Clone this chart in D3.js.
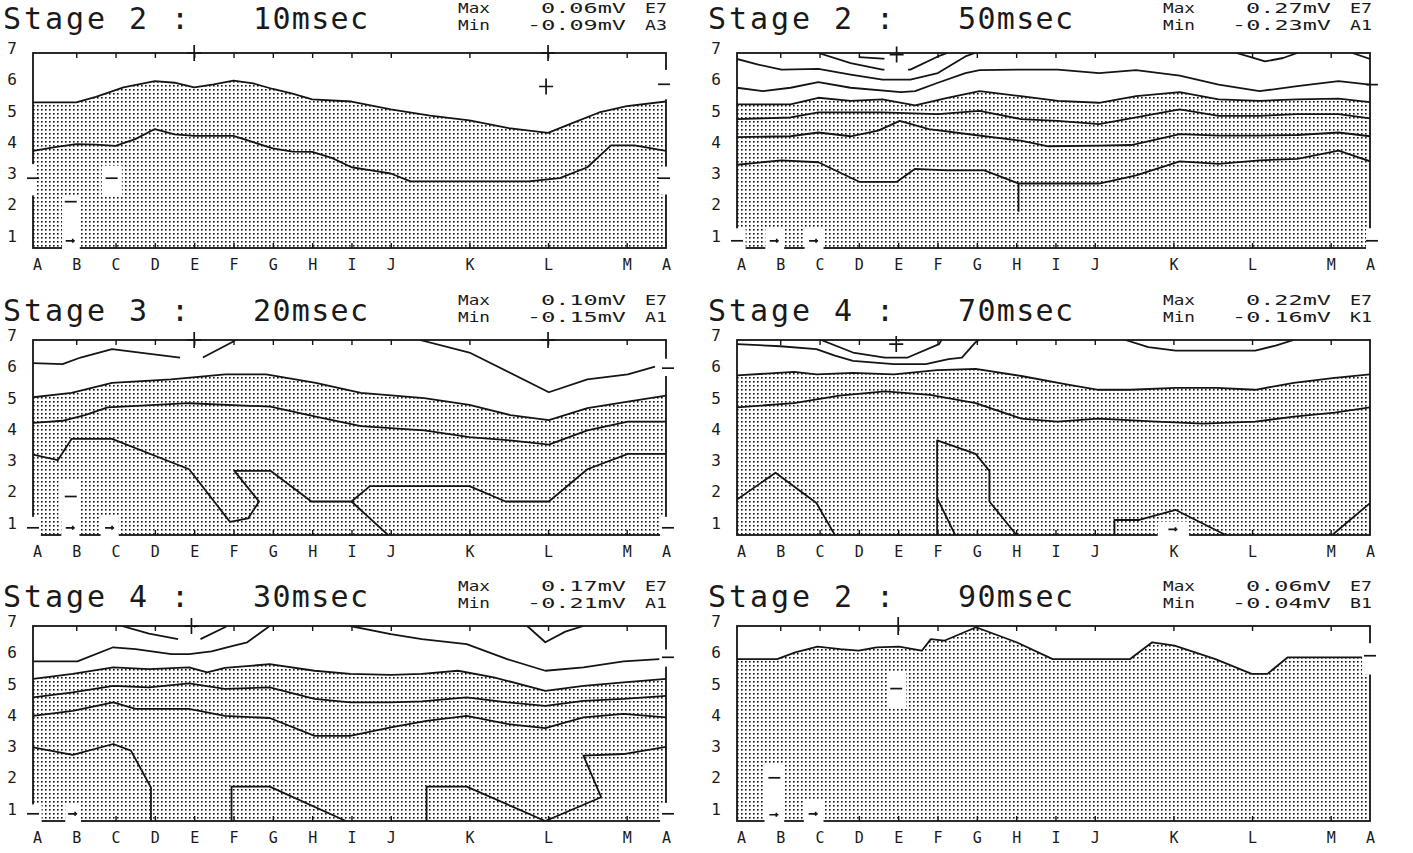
<!DOCTYPE html>
<html>
<head>
<meta charset="utf-8">
<script src="https://cdn.jsdelivr.net/npm/d3@7"></script>
<style>
body { margin: 0; background: #fff; }
svg { display: block; }
.line { fill: none; stroke: #151515; stroke-width: 1.8; stroke-linejoin: round; }
.frame { fill: none; stroke: #151515; stroke-width: 1.8; }
.mark { fill: none; stroke: #151515; stroke-width: 1.7; }
text { font-family: "DejaVu Sans Mono", monospace; fill: #1a1a1a; }
</style>
</head>
<body>
<svg id="chart" width="1413" height="853"></svg>
<script>
// electrode columns (A..M, back to A) and their position around the torso
var columns = ["A","B","C","D","E","F","G","H","I","J","K","L","M","A"];
var colPos  = [0,1,2,3,4,5,6,7,8,9,11,13,15,16];
var rowTicks = [1,2,3,4,5,6,7];

var stages = ["Stage 2 :","Stage 2 :","Stage 3 :","Stage 4 :","Stage 4 :","Stage 2 :"];
var times  = ["10msec","50msec","20msec","70msec","30msec","90msec"];
var maxVals = ["0.06mV","0.27mV","0.10mV","0.22mV","0.17mV","0.06mV"];
var minVals = ["-0.09mV","-0.23mV","-0.15mV","-0.16mV","-0.21mV","-0.04mV"];
var maxLeads = ["E7","E7","E7","E7","E7","E7"];
var minLeads = ["A3","A1","A1","K1","A1","B1"];

// ---- 10 msec
var fill10 = [[-0.1,5.27],[1,5.27],[1.5,5.45],[2.2,5.75],[3,5.95],[3.5,5.9],[4,5.75],[4.5,5.85],[5,5.97],[5.5,5.88],[6,5.7],[6.5,5.55],[7,5.37],[8,5.3],[9,5.05],[10,4.85],[11,4.7],[12,4.45],[13,4.3],[13.6,4.6],[14.3,4.95],[15,5.15],[16,5.3]];
var lines10 = [
  [[-0.1,3.72],[0.5,3.85],[1,3.94],[1.5,3.92],[2,3.88],[2.5,4.1],[3,4.42],[3.5,4.25],[4,4.2],[5,4.2],[5.5,4.0],[6,3.8],[6.5,3.7],[7,3.69],[7.5,3.5],[8,3.2],[8.5,3.1],[9,3.0],[9.5,2.75],[11,2.75],[12.5,2.75],[13.3,2.85],[14,3.2],[14.6,3.9],[15.2,3.9],[16,3.72]]
];
var holes10 = [[-0.3,2.3,0.0,3.3],[1.65,2.3,2.16,3.25],[0.64,0.55,1.09,2.27],[15.85,5.37,16.3,6.31],[15.85,2.33,16.3,3.22]];
var marks10 = [[4,6.85,"+"],[13,6.85,"+"],[12.95,5.78,"+"],[-0.1,2.85,"-"],[1.9,2.85,"-"],[0.86,2.1,"-"],[0.86,0.85,"t"],[15.95,5.85,"-"],[15.95,2.85,"-"]];

// ---- 50 msec
var fill50 = [[-0.1,5.21],[1.26,5.21],[1.97,5.42],[2.79,5.32],[3.6,5.37],[4.43,5.18],[5.25,5.42],[6.07,5.63],[7.12,5.47],[8.06,5.32],[9.11,5.26],[10.05,5.47],[11.16,5.6],[12.15,5.37],[13.19,5.32],[14.15,5.37],[15.2,5.39],[16,5.28]];
var lines50 = [
  [[-0.1,6.66],[0.44,6.48],[1.03,6.32],[1.97,6.34],[2.79,6.16],[3.6,6.0],[4.31,6.0],[5.01,6.21],[5.71,6.74],[5.95,6.85]],
  [[1.97,6.85],[2.79,6.53],[3.6,6.32],[4.31,6.32],[5.01,6.74],[5.25,6.85]],
  [[3.0,6.72],[3.7,6.66]],
  [[-0.1,5.74],[0.56,5.63],[1.26,5.74],[1.97,5.92],[2.79,5.74],[4.07,5.6],[4.43,5.63],[5.01,5.9],[5.71,6.21],[6.07,6.3],[7.12,6.32],[8.06,6.32],[9.11,6.21],[10.05,6.3],[11.16,6.13],[12.15,5.84],[13.19,5.63],[14.15,5.79],[15.2,5.95],[16,5.84]],
  [[12.6,6.85],[12.97,6.72],[13.33,6.58],[13.79,6.69],[14.15,6.85]],
  [[15.55,6.85],[16,6.66]],
  [[-0.1,4.74],[1.26,4.79],[1.97,4.95],[3.6,4.95],[5.01,4.9],[6.07,5.0],[7.12,4.74],[8.06,4.68],[9.11,4.58],[10.05,4.79],[11.16,5.05],[12.15,4.84],[13.19,4.84],[14.15,4.9],[15.2,4.9],[16,4.76]],
  [[-0.1,4.16],[1.26,4.19],[1.97,4.31],[2.79,4.19],[3.49,4.37],[4.04,4.68],[4.78,4.42],[5.95,4.23],[7.12,4.05],[7.82,3.87],[9.11,3.89],[9.93,3.91],[11.16,4.26],[12.15,4.21],[13.19,4.21],[14.15,4.23],[15.2,4.31],[16,4.19]],
  [[-0.1,3.28],[1.03,3.42],[1.97,3.36],[3.02,2.73],[3.96,2.73],[4.43,3.15],[5.25,3.1],[6.19,3.1],[7.06,2.68],[9.11,2.68],[10.05,2.94],[11.16,3.39],[12.15,3.31],[13.19,3.42],[14.15,3.47],[15.2,3.73],[16,3.39]],
  [[7.06,2.68],[7.06,1.78]]
];
var holes50 = [[3.65,6.2,4.25,6.8],[-0.2,0.55,0.12,1.25],[0.62,0.55,1.1,1.25],[1.62,0.55,2.1,1.25],[15.9,0.55,16.3,1.25]];
var marks50 = [[3.96,6.8,"+"],[-0.1,0.85,"-"],[0.86,0.85,"t"],[1.86,0.85,"t"],[16.05,0.85,"-"],[16.05,5.84,"-"]];

// ---- 20 msec
var fill20 = [[-0.1,5.02],[0.88,5.16],[1.91,5.48],[3.41,5.59],[4.79,5.75],[5.83,5.75],[7.09,5.48],[8.24,5.16],[9.85,4.99],[11.0,4.78],[12.04,4.45],[13.02,4.29],[14.0,4.67],[15.03,4.88],[16.0,5.07]];
var lines20 = [
  [[-0.1,6.11],[0.65,6.08],[1.11,6.29],[1.91,6.56],[2.72,6.43],[3.64,6.29]],
  [[4.22,6.29],[4.96,6.78],[5.05,6.85]],
  [[9.74,6.85],[11.0,6.45],[13.02,5.18],[14.0,5.59],[15.03,5.75],[15.72,6.0]],
  [[-0.1,4.2],[0.65,4.27],[1.22,4.45],[1.8,4.7],[3.87,4.83],[5.94,4.72],[7.09,4.4],[8.24,4.1],[9.85,3.96],[11.0,3.75],[12.04,3.64],[13.02,3.51],[14.0,3.96],[15.03,4.24],[16.0,4.24]],
  [[-0.1,3.19],[0.53,3.01],[0.88,3.69],[1.91,3.69],[3.87,2.72],[4.91,1.04],[5.37,1.15],[5.65,1.69],[5.02,2.67],[5.94,2.67],[6.98,1.69],[8.0,1.69],[8.47,2.18],[11.0,2.18],[11.92,1.69],[13.02,1.69],[14.0,2.72],[15.03,3.21],[16.0,3.21]],
  [[8.0,1.69],[8.93,0.62]]
];
var holes20 = [[0.55,1.15,1.1,2.4],[-0.2,0.55,0.1,1.2],[0.62,0.55,1.08,1.2],[1.62,0.55,2.08,1.2],[15.85,5.7,16.3,6.25],[15.85,0.55,16.3,1.2]];
var marks20 = [[4,6.85,"+"],[13,6.85,"+"],[0.86,1.85,"-"],[-0.1,0.85,"-"],[0.86,0.85,"t"],[1.86,0.85,"t"],[16.05,5.95,"-"],[16.05,0.85,"-"]];

// ---- 70 msec
var fill70 = [[-0.1,5.72],[1.35,5.83],[1.92,5.75],[2.85,5.8],[3.89,5.75],[4.99,5.89],[5.97,5.93],[7.13,5.7],[8.28,5.43],[9.09,5.26],[9.9,5.26],[11.06,5.32],[12.1,5.32],[13.08,5.26],[14.06,5.48],[15.1,5.64],[16.0,5.75]];
var lines70 = [
  [[-0.1,6.72],[1.0,6.65],[1.92,6.56],[2.39,6.35],[2.85,6.18],[3.89,6.08],[4.7,6.08],[5.28,6.24],[5.62,6.29],[5.97,6.78],[6.05,6.85]],
  [[2.04,6.85],[2.85,6.45],[3.66,6.29],[4.24,6.29],[5.04,6.72],[5.1,6.85]],
  [[9.78,6.85],[10.36,6.62],[11.06,6.51],[12.1,6.51],[13.08,6.51],[13.6,6.67],[14.06,6.85]],
  [[-0.1,4.7],[1.35,4.83],[2.5,5.07],[3.66,5.21],[4.81,5.1],[5.97,4.83],[7.13,4.34],[8.05,4.24],[9.09,4.34],[10.59,4.24],[11.75,4.18],[13.08,4.24],[14.06,4.4],[15.1,4.53],[16.0,4.7]],
  [[-0.1,1.75],[0.88,2.61],[1.92,1.64],[2.39,0.62]],
  [[4.99,0.62],[4.99,3.64],[5.97,3.21],[6.32,2.67],[6.32,1.69],[7.01,0.62]],
  [[4.99,1.8],[5.45,0.62]],
  [[9.5,0.62],[9.5,1.1],[10.13,1.1],[11.06,1.42],[12.33,0.62]],
  [[15.04,0.62],[16,1.64]]
];
var holes70 = [[3.55,6.42,4.3,6.8],[10.6,0.55,11.4,1.05]];
var marks70 = [[3.95,6.72,"+"],[11.0,0.8,"t"]];

// ---- 30 msec
var fill30 = [[-0.1,5.16],[0.91,5.32],[1.94,5.53],[2.85,5.47],[3.87,5.53],[4.33,5.37],[4.78,5.51],[5.92,5.63],[7.06,5.42],[7.97,5.32],[9.0,5.29],[9.79,5.32],[10.71,5.42],[11.62,5.21],[12.93,4.78],[13.9,4.94],[14.92,5.05],[16,5.16]];
var lines30 = [
  [[2.16,6.85],[2.85,6.61],[3.59,6.43]],
  [[4.16,6.43],[4.78,6.81],[4.82,6.85]],
  [[-0.1,5.72],[1.03,5.72],[1.94,6.17],[2.51,6.11],[3.42,5.95],[3.87,5.95],[4.44,6.04],[5.01,6.22],[5.35,6.33],[5.92,6.85]],
  [[7.97,6.85],[9.0,6.59],[9.79,6.43],[10.93,6.27],[11.96,5.79],[12.93,5.42],[13.9,5.53],[14.92,5.72],[15.83,5.79]],
  [[12.47,6.85],[12.93,6.33],[13.44,6.67],[13.9,6.85]],
  [[-0.1,4.57],[0.91,4.73],[1.94,4.94],[2.85,4.89],[3.87,5.02],[4.78,4.84],[5.92,4.89],[7.06,4.52],[7.97,4.41],[9.0,4.41],[9.79,4.44],[10.93,4.57],[11.96,4.41],[12.93,4.3],[13.9,4.46],[14.92,4.52],[16,4.62]],
  [[-0.1,3.98],[0.91,4.14],[1.94,4.41],[2.51,4.2],[3.87,4.2],[4.78,3.98],[5.92,3.91],[7.06,3.34],[7.97,3.34],[9.0,3.61],[9.91,3.82],[10.93,3.98],[11.96,3.72],[12.93,3.59],[13.9,3.93],[14.92,4.04],[16,3.93]],
  [[-0.1,2.97],[0.91,2.73],[1.94,3.08],[2.39,2.87],[2.9,1.69],[2.9,0.62]],
  [[4.95,0.62],[4.95,1.72],[5.92,1.72],[7.86,0.62]],
  [[9.91,0.62],[9.91,1.72],[10.93,1.72],[12.93,0.62],[14.35,1.38],[13.9,2.71],[14.92,2.76],[16,2.99]]
];
var holes30 = [[-0.2,0.55,0.12,1.15],[0.72,0.55,1.12,1.15],[15.85,5.55,16.3,6.1],[15.85,0.55,16.3,1.2],[3.62,6.35,4.12,6.8]];
var marks30 = [[3.93,6.85,"+"],[-0.1,0.85,"-"],[0.92,0.85,"t"],[16.05,5.85,"-"],[16.05,0.85,"-"]];

// ---- 90 msec
var fill90 = [[-0.1,5.79],[0.92,5.79],[1.38,6.01],[1.95,6.19],[2.53,6.11],[2.99,6.06],[3.45,6.17],[4.02,6.19],[4.6,6.06],[4.83,6.43],[5.17,6.38],[5.98,6.81],[7.01,6.33],[7.93,5.79],[9.89,5.79],[10.46,6.33],[11.03,6.22],[12.07,5.79],[12.99,5.32],[13.39,5.32],[13.91,5.85],[16,5.85]];
var lines90 = [];
var holes90 = [[3.72,4.25,4.2,5.35],[0.6,0.55,1.1,2.45],[1.6,0.55,2.1,1.3],[15.8,5.3,16.3,6.3]];
var marks90 = [[4,6.85,"|"],[3.95,4.85,"-"],[0.85,2.0,"-"],[0.85,0.82,"t"],[1.85,0.85,"t"],[16.0,5.9,"-"]];

var fills = [fill10, fill50, fill20, fill70, fill30, fill90];
var lineSets = [lines10, lines50, lines20, lines70, lines30, lines90];
var holeSets = [holes10, holes50, holes20, holes70, holes30, holes90];
var markSets = [marks10, marks50, marks20, marks70, marks30, marks90];

// layout
var colLeft = [33, 737], colRight = [666, 1370];
var rowTop = [53, 340, 626], plotH = 195;
var titleBase = [29, 321, 607];
var colShift = [0, 705];

var svg = d3.select("#chart");
var defs = svg.append("defs");
var pat = defs.append("pattern").attr("id", "stipple")
    .attr("patternUnits", "userSpaceOnUse").attr("width", 4).attr("height", 4);
pat.append("rect").attr("x", 1).attr("y", 1).attr("width", 1.6).attr("height", 1.6).attr("fill", "#111");

stages.forEach(function(st, i) {
  var c = i % 2, r = Math.floor(i / 2);
  var x = d3.scaleLinear().domain([-0.1, 16]).range([colLeft[c], colRight[c]]);
  var y = d3.scaleLinear().domain([0.62, 6.85]).range([rowTop[r] + plotH, rowTop[r]]);
  var g = svg.append("g");

  defs.append("clipPath").attr("id", "clip" + i).append("rect")
      .attr("x", x(-0.1)).attr("y", y(6.85))
      .attr("width", x(16) - x(-0.1)).attr("height", y(0.62) - y(6.85));
  var plot = g.append("g").attr("clip-path", "url(#clip" + i + ")");

  var area = d3.area().x(function(d) { return x(d[0]); }).y0(y(0.62)).y1(function(d) { return y(d[1]); });
  var line = d3.line().x(function(d) { return x(d[0]); }).y(function(d) { return y(d[1]); });

  plot.append("path").datum(fills[i]).attr("d", area).attr("fill", "url(#stipple)");
  plot.selectAll("path.line").data([fills[i]].concat(lineSets[i])).join("path")
      .attr("class", "line").attr("d", line);

  g.append("rect").attr("class", "frame")
      .attr("x", x(-0.1)).attr("y", y(6.85))
      .attr("width", x(16) - x(-0.1)).attr("height", y(0.62) - y(6.85));

  // small inner ticks on top and bottom edges
  g.append("g").attr("transform", "translate(0," + y(6.85) + ")")
      .call(d3.axisTop(x).tickValues(colPos.slice(1, -1)).tickSize(-5).tickFormat(""))
      .call(function(a) { a.select(".domain").remove(); a.selectAll("line").attr("stroke", "#151515").attr("stroke-width", 1.4); });
  g.append("g").attr("transform", "translate(0," + y(0.62) + ")")
      .call(d3.axisBottom(x).tickValues(colPos.slice(2, -1)).tickSize(-5).tickFormat(""))
      .call(function(a) { a.select(".domain").remove(); a.selectAll("line").attr("stroke", "#151515").attr("stroke-width", 1.4); });

  // blank patches around electrode markers
  g.selectAll("rect.hole").data(holeSets[i]).join("rect").attr("class", "hole")
      .attr("fill", "#fff")
      .attr("x", function(d) { return x(d[0]); })
      .attr("y", function(d) { return y(d[3]); })
      .attr("width", function(d) { return x(d[2]) - x(d[0]); })
      .attr("height", function(d) { return y(d[1]) - y(d[3]); });

  g.selectAll("path.mark").data(markSets[i]).join("path").attr("class", "mark")
      .attr("d", function(d) {
        var px = x(d[0]), py = y(d[1]);
        if (d[2] === "+") return "M" + (px - 7) + "," + py + "H" + (px + 7) + "M" + px + "," + (py - 8) + "V" + (py + 8);
        if (d[2] === "|") return "M" + px + "," + (py - 9) + "V" + (py + 9);
        if (d[2] === "t") return "M" + (px - 5) + "," + py + "H" + (px + 4) + "M" + (px + 2) + "," + (py - 2) + "V" + (py + 2);
        return "M" + (px - 6) + "," + py + "H" + (px + 6);
      });

  // axes labels
  g.append("g").attr("transform", "translate(" + (x(-0.1) - 14) + ",0)")
      .call(d3.axisLeft(y).tickValues(rowTicks).tickSize(0).tickPadding(2).tickFormat(d3.format("d")))
      .call(function(a) {
        a.select(".domain").remove();
        a.selectAll("text").attr("font-size", 16).attr("font-family", "DejaVu Sans Mono").attr("fill", "#1a1a1a");
      });
  g.append("g").attr("transform", "translate(0," + y(0.62) + ")")
      .call(d3.axisBottom(x).tickValues(colPos).tickSize(0).tickPadding(11)
        .tickFormat(function(d, k) { return columns[k]; }))
      .call(function(a) {
        a.select(".domain").remove();
        a.selectAll("text").attr("font-size", 15).attr("font-family", "DejaVu Sans Mono").attr("fill", "#1a1a1a");
      });

  // header
  var ox = colShift[c], tb = titleBase[r];
  g.append("text").attr("x", 3 + ox).attr("y", tb).attr("font-size", 30)
      .attr("textLength", 186).attr("lengthAdjust", "spacing").text(st);
  g.append("text").attr("x", 253 + ox).attr("y", tb).attr("font-size", 30)
      .attr("textLength", 115).attr("lengthAdjust", "spacing").text(times[i]);
  var small = [
    ["Max", 458, tb - 16, 32], ["Min", 458, tb + 1, 32],
    [maxVals[i], 541, tb - 16, 85], [minVals[i], 527, tb + 1, 99],
    [maxLeads[i], 645, tb - 16, 22], [minLeads[i], 645, tb + 1, 22]
  ];
  small.forEach(function(s) {
    g.append("text").attr("x", s[1] + ox).attr("y", s[2]).attr("font-size", 14)
        .attr("textLength", s[3]).attr("lengthAdjust", "spacingAndGlyphs").text(s[0]);
  });
});
</script>
</body>
</html>
